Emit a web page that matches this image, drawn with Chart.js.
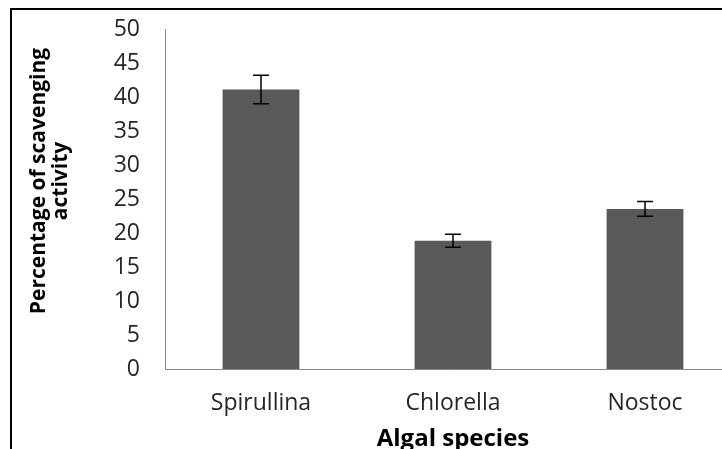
<!DOCTYPE html>
<html>
<head>
<meta charset="utf-8">
<script src="https://cdn.jsdelivr.net/npm/chart.js@4.4.1/dist/chart.umd.min.js"></script>
<style>
html,body{margin:0;padding:0;width:722px;height:449px;overflow:hidden;background:#fff;}
#wrap{position:absolute;left:0;top:0;width:760px;}
#wrap canvas{display:block;}
#frame{position:absolute;left:10px;top:8px;width:800px;height:520px;border-left:2px solid #000;border-top:2px solid #000;pointer-events:none;}
</style>
</head>
<body>
<div id="wrap"><canvas id="c" width="760" height="470"></canvas></div>
<div id="frame"></div>
<script>
const categories = ['Spirullina', 'Chlorella', 'Nostoc'];
const scavenging = [41.2, 18.9, 23.6];
const scavengingError = [2.1, 0.95, 1.1];
const yTickValues = [0, 5, 10, 15, 20, 25, 30, 35, 40, 45, 50];
const xTitle = 'Algal species';
const yTitleLines = ['Percentage of scavenging', 'activity'];

const targetTop = 30, targetBottom = 369;   // page pixels of value 50 and value 0
const xAxisHeight = 101;
let shift = 0;                                 // canvas moved up by this many px

const errorBarPlugin = {
  id: 'errorBars',
  afterDatasetsDraw(chart) {
    const ctx = chart.ctx;
    const y = chart.scales.y;
    const meta = chart.getDatasetMeta(0);
    ctx.save();
    ctx.strokeStyle = '#000';
    ctx.lineWidth = 1.5;
    meta.data.forEach((bar, i) => {
      const v = scavenging[i], e = scavengingError[i];
      const top = y.getPixelForValue(v + e);
      const bot = y.getPixelForValue(v - e);
      const x = bar.x;
      ctx.beginPath();
      ctx.moveTo(x, top); ctx.lineTo(x, bot);
      ctx.moveTo(x - 8, top); ctx.lineTo(x + 8, top);
      ctx.moveTo(x - 8, bot); ctx.lineTo(x + 8, bot);
      ctx.stroke();
    });
    ctx.restore();
  }
};

const yTitlePlugin = {
  id: 'yTitle',
  afterDraw(chart) {
    const ctx = chart.ctx;
    ctx.save();
    ctx.fillStyle = '#000';
    ctx.font = 'bold 21px "Open Sans"';
    ctx.textAlign = 'center';
    ctx.textBaseline = 'alphabetic';
    const cy = 181 + shift;
    const baselines = [45, 67];
    yTitleLines.forEach((line, i) => {
      ctx.save();
      ctx.translate(baselines[i], cy);
      ctx.rotate(-Math.PI / 2);
      ctx.fillText(line, 0, 0);
      ctx.restore();
    });
    ctx.restore();
  }
};

function build(canvas) {
  return new Chart(canvas, {
    type: 'bar',
    data: {
      labels: categories,
      datasets: [{
        data: scavenging,
        backgroundColor: '#595959',
        borderWidth: 0,
        categoryPercentage: 1,
        barPercentage: 0.4
      }]
    },
    options: {
      responsive: false,
      animation: false,
      devicePixelRatio: 1,
      layout: { padding: { left: 0, right: 19, top: 30, bottom: 0 } },
      plugins: { legend: { display: false }, tooltip: { enabled: false } },
      scales: {
        x: {
          grid: { display: false, drawTicks: false },
          border: { display: true, color: '#898989', width: 1 },
          ticks: { color: '#262626', font: { family: '"Open Sans"', size: 23 }, padding: 21, maxRotation: 0 },
          title: { display: true, text: xTitle, color: '#000', font: { family: '"Open Sans"', size: 24, weight: 'bold' }, padding: { top: 0, bottom: 16 } },
          afterFit(scale) { scale.height = xAxisHeight; }
        },
        y: {
          min: 0, max: 50,
          grid: { display: false, drawTicks: false },
          border: { display: true, color: '#898989', width: 1 },
          ticks: { color: '#262626', font: { family: '"Open Sans"', size: 23 }, padding: 25 },
          afterBuildTicks(scale) { scale.ticks = yTickValues.map(v => ({ value: v })); },
          afterFit(scale) { scale.width = 165; }
        }
      }
    },
    plugins: [errorBarPlugin, yTitlePlugin]
  });
}

const wrap = document.getElementById('wrap');
let canvas = document.getElementById('c');
let chart = build(canvas);
for (let k = 0; k < 3; k++) {
  const t = chart.scales.y.getPixelForValue(50);
  const b = chart.scales.y.getPixelForValue(0);
  const newShift = Math.round(t - targetTop);
  const needBottom = targetBottom + newShift;
  const newHeight = Math.round(canvas.height + (needBottom - b));
  if (newShift === shift && newHeight === canvas.height) break;
  chart.destroy();
  shift = newShift;
  const fresh = document.createElement('canvas');
  fresh.id = 'c';
  fresh.width = 760;
  fresh.height = newHeight;
  wrap.replaceChild(fresh, canvas);
  canvas = fresh;
  wrap.style.top = (-shift) + 'px';
  chart = build(canvas);
}
</script>
</body>
</html>
